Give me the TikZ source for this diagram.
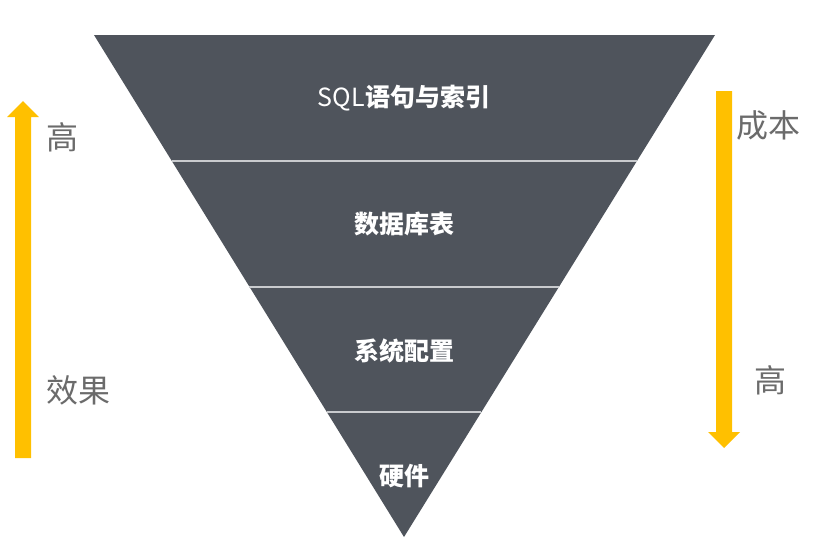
\documentclass[tikz,border=0pt]{standalone}
\usepackage{fontspec}
\setmainfont{Noto Sans CJK SC}
\definecolor{pyr}{HTML}{4F545C}
\definecolor{sepc}{HTML}{C9CBCE}
\definecolor{labc}{HTML}{6B6B6B}
\definecolor{arrowc}{HTML}{FFC000}
\begin{document}
\begin{tikzpicture}[x=1pt,y=-1pt,
  sep/.style={draw=sepc,line width=2pt},
  lvl/.style={text=white,font=\fontsize{25}{25}\selectfont\bfseries,inner sep=0pt},
  side/.style={text=labc,font=\fontsize{32}{32}\selectfont,anchor=west,inner sep=0pt},
  yarrow/.style={fill=arrowc}]
\useasboundingbox[fill=white] (0,0) rectangle (821,541);
% pyramid
\coordinate (TL) at (94,35);
\coordinate (TR) at (715,35);
\coordinate (B) at (404,537);
\fill[pyr] (TL) -- (TR) -- (B) -- cycle;
\coordinate (s1l) at (171.9,161); \coordinate (s1r) at (637.1,161);
\coordinate (s2l) at (249.4,287); \coordinate (s2r) at (558.6,287);
\coordinate (s3l) at (326.7,412); \coordinate (s3r) at (481.3,412);
\draw[sep] (s1l) -- (s1r);
\draw[sep] (s2l) -- (s2r);
\draw[sep] (s3l) -- (s3r);
\node[lvl] (l1) at (404,98) {{\mdseries SQL}语句与索引};
\node[lvl] (l2) at (404,224) {数据库表};
\node[lvl] (l3) at (404,351) {系统配置};
\node[lvl] (l4) at (404,476) {硬件};
% left arrow (up)
\fill[yarrow] (15,458) -- (31,458) -- (31,117) -- (39,117) -- (23,101) -- (7,117) -- (15,117) -- cycle;
% right arrow (down)
\fill[yarrow] (716,91) -- (732,91) -- (732,432) -- (740,432) -- (724,448) -- (708,432) -- (716,432) -- cycle;
% labels
\node[side] (lh) at (46,137) {高};
\node[side] (lx) at (46,390) {效果};
\node[side] (rc) at (736,125) {成本};
\node[side] (rh) at (754,380) {高};
\end{tikzpicture}
\end{document}
